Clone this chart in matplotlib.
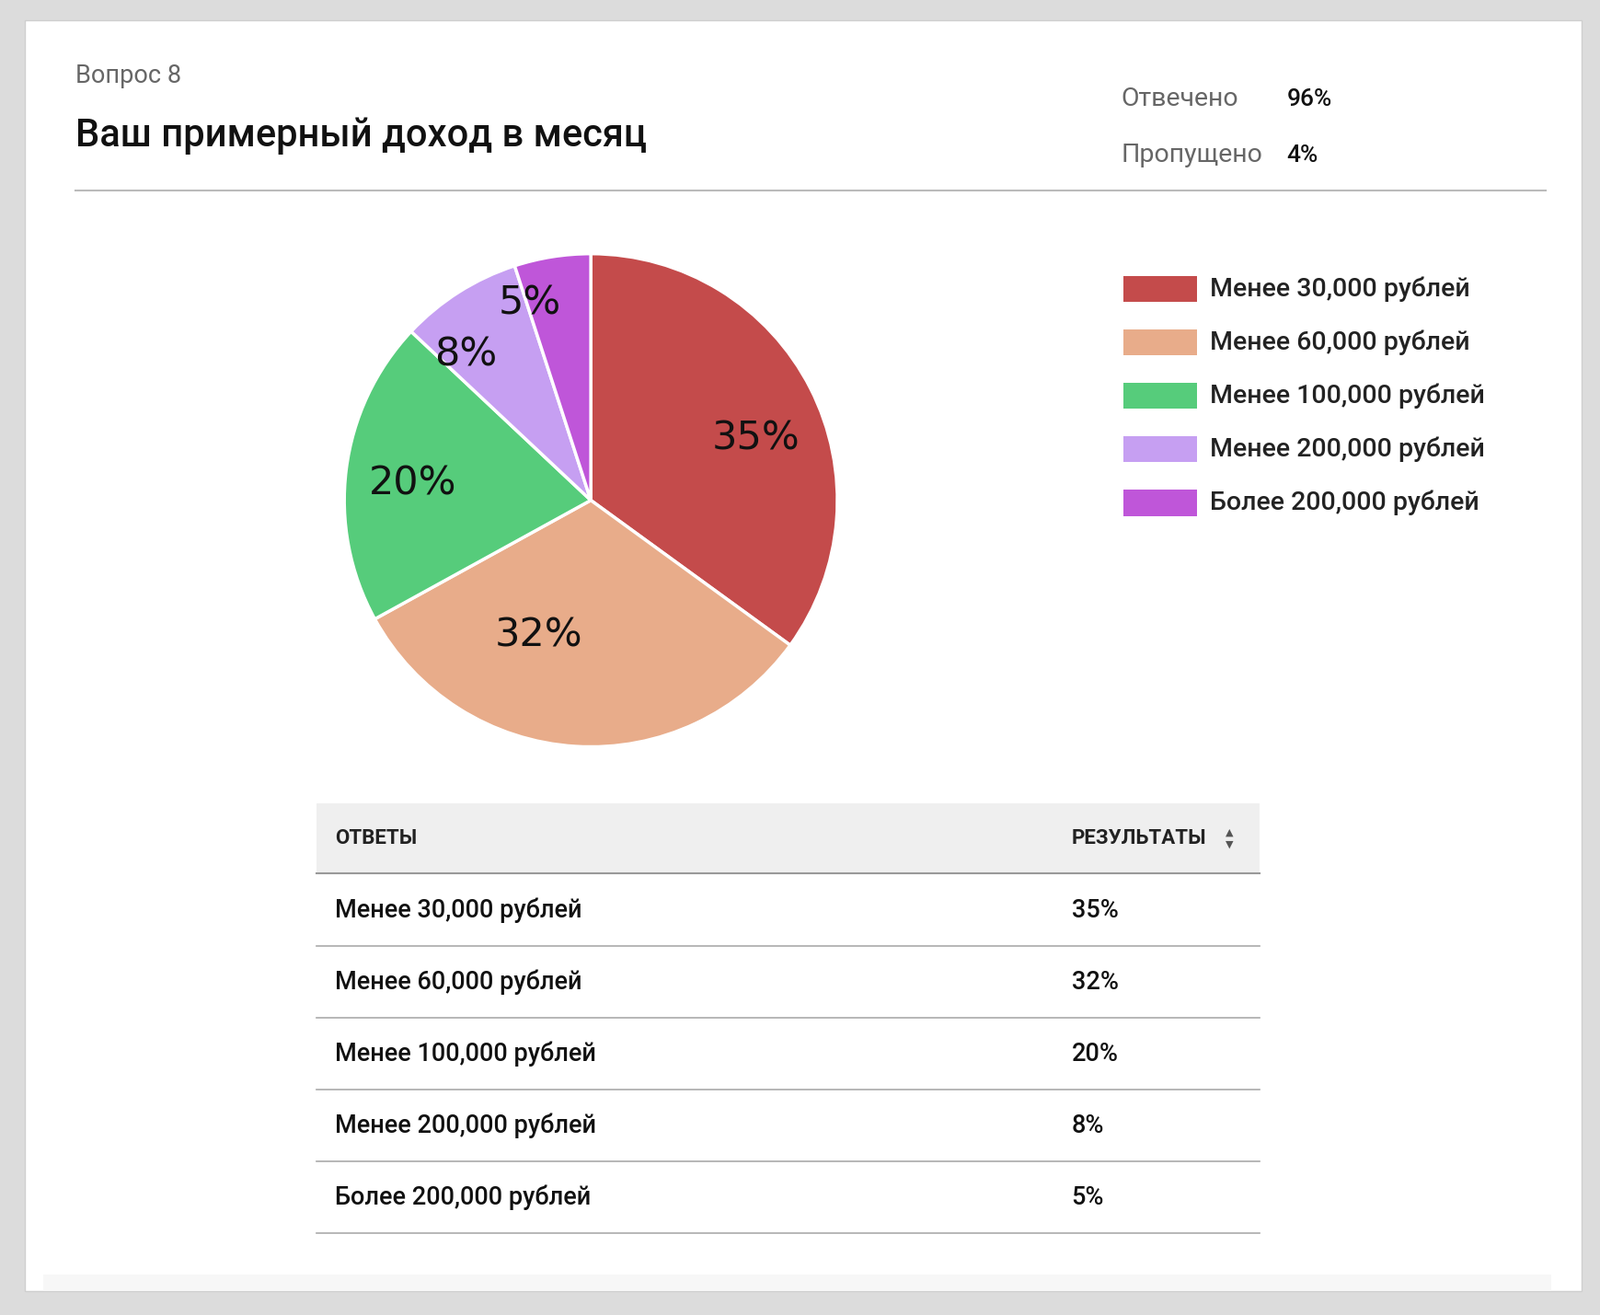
import matplotlib
matplotlib.use("Agg")
import matplotlib.pyplot as plt
from matplotlib.patches import Rectangle
from matplotlib.lines import Line2D

categories = ["Менее 30,000 рублей", "Менее 60,000 рублей", "Менее 100,000 рублей",
              "Менее 200,000 рублей", "Более 200,000 рублей"]
values = [35, 32, 20, 8, 5]
labels = ["35%", "32%", "20%", "8%", "5%"]
colors = ["#c44b4b", "#e8ac8a", "#56cc7b", "#c69ff2", "#bf56d9"]

plt.rcParams["font.family"] = "Roboto"
W, H = 1568, 1288
fig = plt.figure(figsize=(17.39, 14.29), dpi=100)
fig.patch.set_facecolor("#dcdcdc")

def P(x, y):
    return (x / W, 1 - y / H)

def rect(x0, y0, x1, y1, **kw):
    fig.patches.append(Rectangle(P(x0, y1), (x1 - x0) / W, (y1 - y0) / H,
                                 transform=fig.transFigure, **kw))

def hline(x0, x1, y, color, lw=1.2):
    fig.lines.append(Line2D([x0 / W, x1 / W], [1 - y / H] * 2,
                            transform=fig.transFigure, color=color, lw=lw))

rect(24, 20, 1550, 1265, facecolor="white", edgecolor="#cfcfcf", lw=1)
rect(42, 1248, 1520, 1265, facecolor="#f7f7f7", edgecolor="none")

fig.text(*P(74, 74), "Вопрос 8", fontsize=19.5, color="#666666", va="center")
fig.text(*P(74, 133), "Ваш примерный доход в месяц", fontsize=30, color="#111111", va="center", fontweight="medium")
fig.text(*P(1099, 97), "Отвечено", fontsize=20.5, color="#666666", va="center")
fig.text(*P(1261, 97), "96%", fontsize=19, color="#111111", va="center", fontweight="medium")
fig.text(*P(1099, 152), "Пропущено", fontsize=20.5, color="#666666", va="center")
fig.text(*P(1261, 152), "4%", fontsize=19, color="#111111", va="center", fontweight="medium")
hline(74, 1515, 187, "#bbbbbb", 1.5)

# pie
cx, cy, r = 579, 490, 244
ax = fig.add_axes([(cx - r) / W, 1 - (cy + r) / H, 2 * r / W, 2 * r / H], zorder=5)
ax.patch.set_alpha(0)
wedges, texts = ax.pie(values, colors=colors, startangle=90, counterclock=False,
                       labels=labels, labeldistance=0.55,
                       wedgeprops=dict(edgecolor="white", linewidth=2.5),
                       textprops=dict(fontsize=31, fontfamily="DejaVu Sans", color="#111111"))
ax.set_aspect("equal")
ax.set_xlim(-1.01, 1.01); ax.set_ylim(-1.01, 1.01)
texts[3].set_position((-0.38, 0.59))
texts[4].set_position((-0.12, 0.80))

# legend
for i, (c, lab) in enumerate(zip(categories, colors)):
    y = 283 + 52.3 * i
    rect(1101, y - 13, 1173, y + 13, facecolor=lab, edgecolor="none")
    fig.text(*P(1186, y), c, fontsize=20.5, color="#222222", va="center", fontweight="medium")

# table
rect(310, 787, 1234, 855, facecolor="#efefef", edgecolor="none")
fig.text(*P(328, 821), "ОТВЕТЫ", fontsize=16, fontweight="bold", color="#222222", va="center")
fig.text(*P(1050, 821), "РЕЗУЛЬТАТЫ", fontsize=16, fontweight="bold", color="#222222", va="center")
fig.text(*P(1205, 815), "▲", fontsize=8, color="#555555", ha="center", va="center", fontfamily="DejaVu Sans")
fig.text(*P(1205, 827), "▼", fontsize=8, color="#555555", ha="center", va="center", fontfamily="DejaVu Sans")
hline(310, 1234, 855, "#999999", 1.5)
for i, (c, l) in enumerate(zip(categories, labels)):
    y = 892 + 70.3 * i
    fig.text(*P(328, y), c, fontsize=19.5, color="#111111", va="center", fontweight="medium")
    fig.text(*P(1050, y), l, fontsize=19.5, color="#111111", va="center", fontweight="medium")
    hline(310, 1234, y + 35, "#aaaaaa", 1.2)

fig.savefig("out.png", dpi=100, facecolor=fig.get_facecolor())
